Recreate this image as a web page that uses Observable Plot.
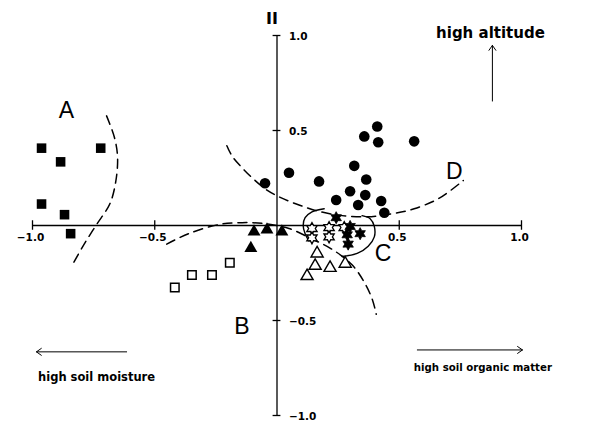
<!DOCTYPE html>
<html>
<head>
<meta charset="utf-8">
<script src="https://cdn.jsdelivr.net/npm/d3@7"></script>
<script src="https://cdn.jsdelivr.net/npm/@observablehq/plot@0.6"></script>
<style>
  html, body { margin: 0; padding: 0; background: #fff; overflow: hidden; }
  #chart svg { display: block; }
</style>
</head>
<body>
<div id="chart"></div>
<script>
// ---- data (axis I = x, axis II = y) ----
const groupA  = [[-0.963,0.407],[-0.885,0.335],[-0.721,0.407],[-0.963,0.113],[-0.869,0.057],[-0.844,-0.043]];
const groupB1 = [[-0.418,-0.326],[-0.348,-0.261],[-0.266,-0.261],[-0.193,-0.196]];
const groupB2 = [[-0.107,-0.120],[-0.094,-0.033],[-0.041,-0.022],[0.020,-0.033]];
const groupC1 = [[0.123,-0.266],[0.156,-0.212],[0.164,-0.147],[0.217,-0.223],[0.279,-0.201]];
const groupC2 = [[0.143,-0.016],[0.143,-0.065],[0.213,-0.011],[0.213,-0.060],[0.275,-0.011]];
const groupC3 = [[0.242,0.041],[0.287,-0.049],[0.291,-0.098],[0.340,-0.043],[0.299,-0.005]];
const groupD  = [[0.410,0.521],[0.357,0.469],[0.414,0.438],[0.561,0.443],[0.316,0.314],[0.049,0.278],
                 [-0.049,0.222],[0.172,0.232],[0.365,0.242],[0.299,0.180],[0.361,0.160],[0.242,0.134],
                 [0.332,0.108],[0.426,0.129],[0.439,0.067]];

const boundaryA = [[-0.697,0.577],[-0.664,0.459],[-0.652,0.356],[-0.660,0.227],[-0.684,0.113],[-0.738,0.005],[-0.791,-0.103],[-0.832,-0.196]];
const boundaryD = [[-0.205,0.420],[-0.184,0.366],[-0.143,0.304],[-0.094,0.242],[-0.041,0.186],[0.020,0.144],[0.090,0.108],
                   [0.164,0.077],[0.266,0.052],[0.369,0.046],[0.471,0.062],[0.561,0.088],[0.664,0.144],[0.762,0.237]];
const boundaryB = [[-0.451,-0.098],[-0.361,-0.043],[-0.238,0.005],[-0.143,0.015],[-0.053,0.010],[0.049,-0.016],[0.143,-0.071],
                   [0.225,-0.125],[0.307,-0.207],[0.357,-0.299],[0.389,-0.386],[0.406,-0.467]];
const boundaryC1 = [[0.193,0.088],[0.143,0.072],[0.115,0.041],[0.107,0.000],[0.115,-0.043],[0.131,-0.082]];
const boundaryC2 = [[0.348,0.052],[0.381,0.036],[0.398,-0.005],[0.398,-0.060],[0.373,-0.109],[0.328,-0.147],[0.266,-0.163]];

const groupLabels = [{t:"A",x:-0.861,y:0.603},{t:"B",x:-0.143,y:-0.533},{t:"C",x:0.434,y:-0.147},{t:"D",x:0.725,y:0.284}];
const xTicks = [-1, -0.5, 0.5, 1];
const yTicks = [-1, -0.5, 0.5, 1];
const gradientText = [
  {t:"high altitude", x:0.873, y:1.010, size:15},
  {t:"high soil moisture", x:-0.738, y:-0.800, size:11.5},
  {t:"high soil organic matter", x:0.842, y:-0.750, size:10.2}
];
const gradientArrows = [
  {x1:0.881, y1:0.655, x2:0.881, y2:0.948},
  {x1:-0.615, y1:-0.665, x2:-0.984, y2:-0.665},
  {x1:0.574, y1:-0.655, x2:1.004, y2:-0.655}
];

// six-pointed star symbol
const hexagram = {
  draw(context, size) {
    const R = Math.sqrt(size) * 0.62, r = R * 0.56;
    for (let i = 0; i < 12; i++) {
      const a = i * Math.PI / 6 - Math.PI / 2;
      const rad = i % 2 ? r : R;
      const px = rad * Math.cos(a), py = rad * Math.sin(a);
      if (i === 0) context.moveTo(px, py); else context.lineTo(px, py);
    }
    context.closePath();
  }
};

const fmt = d => (d < 0 ? "\u2212" : "") + Math.abs(d).toFixed(1);
const font = "DejaVu Sans, sans-serif";
const dash = "9,6";
const px = d => d[0], py = d => d[1];

const chart = Plot.plot({
  width: 598,
  height: 423,
  marginLeft: 32,
  marginRight: 77,
  marginTop: 35,
  marginBottom: 8,
  style: {background: "#fff", fontFamily: font},
  x: {domain: [-1, 1], axis: null},
  y: {domain: [-1, 1], axis: null},
  marks: [
    // axes
    Plot.ruleY([0], {x1: -1, x2: 1, stroke: "#000", strokeWidth: 1.3}),
    Plot.ruleX([0], {y1: -1, y2: 1, stroke: "#000", strokeWidth: 1.3}),
    Plot.ruleX(xTicks, {x: d => d, y1: -0.025, y2: 0.025, stroke: "#000", strokeWidth: 1.3}),
    Plot.ruleY(yTicks, {y: d => d, x1: -0.016, x2: 0.016, stroke: "#000", strokeWidth: 1.3}),
    Plot.text(xTicks, {x: d => d, y: 0, text: fmt, dy: 12, dx: -2, fontSize: 10.5, fontWeight: "bold", fill: "#000"}),
    Plot.text(yTicks, {x: 0, y: d => d, text: fmt, dx: 12, dy: 1, textAnchor: "start", fontSize: 10.5, fontWeight: "bold", fill: "#000"}),
    Plot.text(["II"], {x: 0, y: 1, text: d => d, dy: -17, dx: -5, fontSize: 16, fontWeight: "bold", fill: "#000"}),

    // boundaries
    Plot.line(boundaryA, {x: px, y: py, curve: "catmull-rom", stroke: "#000", strokeWidth: 1.5, strokeDasharray: dash}),
    Plot.line(boundaryD, {x: px, y: py, curve: "catmull-rom", stroke: "#000", strokeWidth: 1.5, strokeDasharray: dash}),
    Plot.line(boundaryB, {x: px, y: py, curve: "catmull-rom", stroke: "#000", strokeWidth: 1.5, strokeDasharray: dash}),
    Plot.line(boundaryC1, {x: px, y: py, curve: "catmull-rom", stroke: "#000", strokeWidth: 1.4}),
    Plot.line(boundaryC2, {x: px, y: py, curve: "catmull-rom", stroke: "#000", strokeWidth: 1.4}),

    // points
    Plot.dot(groupA, {x: px, y: py, symbol: "square", r: 5.4, fill: "#000"}),
    Plot.dot(groupB1, {x: px, y: py, symbol: "square", r: 4.8, fill: "#fff", stroke: "#000", strokeWidth: 1.5}),
    Plot.dot(groupB2, {x: px, y: py, symbol: "triangle", r: 4.8, fill: "#000"}),
    Plot.dot(groupC1, {x: px, y: py, symbol: "triangle", r: 4.5, fill: "#fff", stroke: "#000", strokeWidth: 1.4}),
    Plot.dot(groupC2, {x: px, y: py, symbol: hexagram, r: 5.4, fill: "#fff", stroke: "#000", strokeWidth: 1.3}),
    Plot.dot(groupC3, {x: px, y: py, symbol: hexagram, r: 5.5, fill: "#000", stroke: "#000", strokeWidth: 0.8}),
    Plot.dot(groupD, {x: px, y: py, symbol: "circle", r: 5.3, fill: "#000"}),

    // group letters
    Plot.text(groupLabels, {x: "x", y: "y", text: "t", fontSize: 23, fontFamily: "Liberation Sans, Arial, sans-serif", fill: "#000"}),

    // gradient annotations
    Plot.text(gradientText, {x: "x", y: "y", text: "t", fontSize: d => d.size, fontWeight: "bold", fill: "#000"}),
    Plot.arrow(gradientArrows, {x1: "x1", y1: "y1", x2: "x2", y2: "y2", stroke: "#000", strokeWidth: 1, headLength: 9, headAngle: 70})
  ]
});

document.getElementById("chart").appendChild(chart);
</script>
</body>
</html>
